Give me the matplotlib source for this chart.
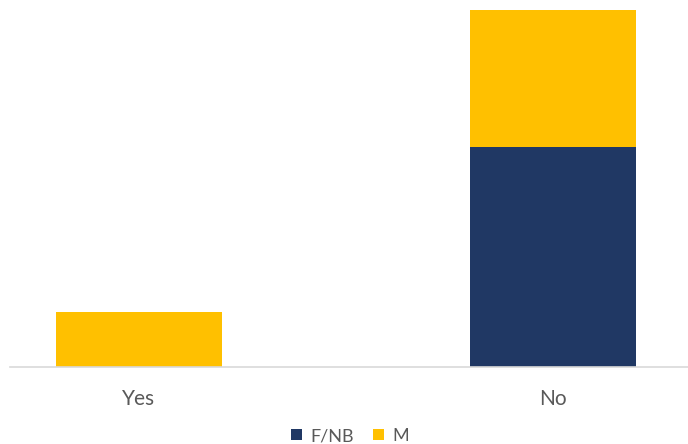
import numpy as np
import matplotlib.pyplot as plt

plt.rcParams['font.family'] = ['Lato', 'DejaVu Sans']

categories = ['Yes', 'No']
fnb = [0, 8]
m = [2, 5]

navy = '#203864'
gold = '#FFC000'
grey_text = '#595959'

fig = plt.figure(figsize=(6.88, 4.44), dpi=100)
ax = fig.add_axes([10 / 688, (444 - 366.5) / 444, 678 / 688, 366.5 / 444])

x = np.arange(len(categories))
ax.bar(x, fnb, width=0.401, color=navy, label='F/NB')
ax.bar(x, m, width=0.401, bottom=fnb, color=gold, label='M')

ax.set_xlim((10 - 139) / 414, (688 - 139) / 414)
ax.set_ylim(0, 366.5 / 27.4)

for side in ['top', 'right', 'left']:
    ax.spines[side].set_visible(False)
ax.spines['bottom'].set_color('#D9D9D9')
ax.spines['bottom'].set_linewidth(1.2)
ax.set_yticks([])
ax.set_xticks(x)
ax.set_xticklabels(categories, fontsize=15, color=grey_text)
ax.tick_params(axis='x', length=0, pad=16)

fig.legend(loc='center', bbox_to_anchor=(350 / 688, 1 - 436 / 444), ncol=2,
           frameon=False, fontsize=13, labelcolor=grey_text,
           handlelength=0.6, handleheight=0.6, handletextpad=0.45,
           columnspacing=1.1)

fig.savefig('out.png', dpi=100)
